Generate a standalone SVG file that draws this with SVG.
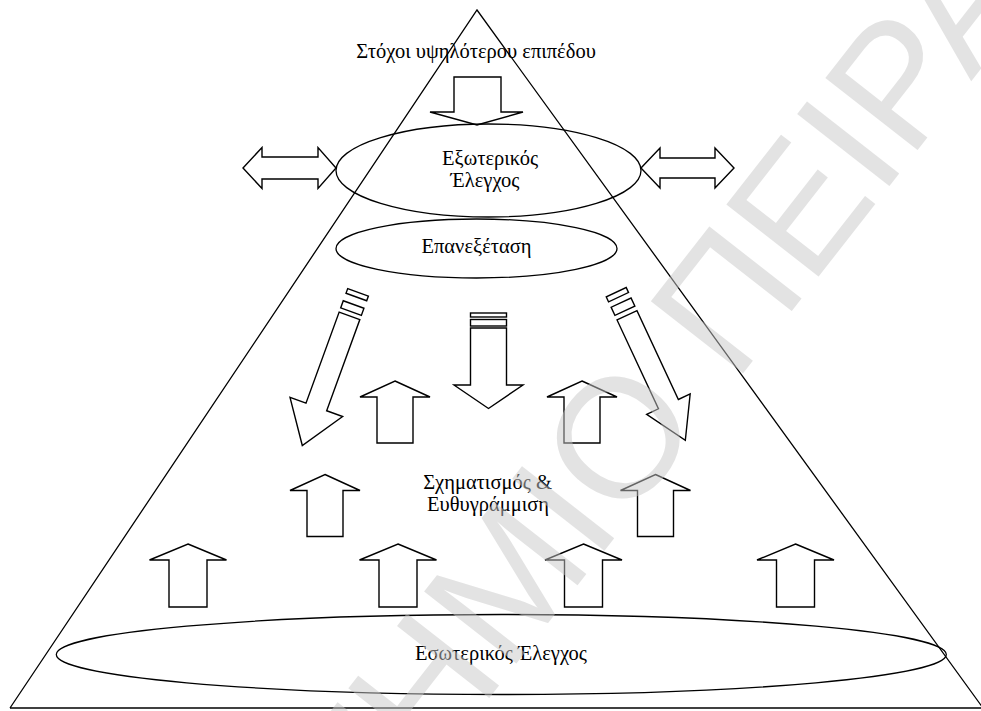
<svg xmlns="http://www.w3.org/2000/svg" width="981" height="711" viewBox="0 0 981 711">
<defs>
<style>
.s{fill:#fff;stroke:#000;stroke-width:1.4;stroke-linejoin:miter}
.l{fill:none;stroke:#000;stroke-width:1.3}
.t{font-family:"Liberation Serif","Times New Roman",serif;font-size:20.5px;fill:#000;text-anchor:middle}
.wm{font-family:"Liberation Sans",Arial,sans-serif;font-size:170px;fill:#c8c8c8;opacity:.5}
</style>
<path id="up" d="M0,0 L35,16 L18,16 L18,62 L-18,62 L-18,16 L-35,16 Z"/>
<path id="upL" d="M0,0 L38.5,16 L19,16 L19,63 L-19,63 L-19,16 L-38.5,16 Z"/>
</defs>
<rect width="981" height="711" fill="#fff"/>
<g id="pyramid">
<path class="l" d="M10,708 L477,10 L983,708"/>
<line class="l" x1="10" y1="708" x2="981" y2="708"/>
</g>
<g id="top-goals">
<text class="t" x="476" y="58">Στόχοι υψηλότερου επιπέδου</text>
</g>
<g id="connectors">
<path id="arrow-top-down" class="s" d="M454,77 H501 V112 H523 L477,125 L430,112 H454 Z"/>
<path id="arrow-left-double" class="s" d="M243,168 L262,147.5 V157 H318 V147.5 L336,168 L318,188.5 V179 H262 V188.5 Z"/>
<path id="arrow-right-double" class="s" d="M641,168 L660,148 V158 H715 V148 L734,168 L715,188 V178 H660 V188 Z"/>
<g id="arrow-diag-left" transform="translate(349.5,315.8) rotate(20)">
<path class="s" d="M-11,0 H11 V97 H28 L0,138 L-28,97 H-11 Z"/>
<rect class="s" x="-11" y="-12" width="22" height="7.5"/>
<rect class="s" x="-11" y="-25" width="22" height="5"/>
</g>
<g id="arrow-center-down">
<path class="s" d="M470.5,328 H506.5 V385 H523 L488.5,408.5 L454,385 H470.5 Z"/>
<rect class="s" x="470.5" y="319.5" width="36" height="6.5"/>
<rect class="s" x="470.5" y="313" width="36" height="4"/>
</g>
<g id="arrow-diag-right" transform="translate(627,315.3) rotate(-25)">
<path class="s" d="M-11,0 H11 V98 H24 L0,138 L-24,98 H-11 Z"/>
<rect class="s" x="-11" y="-14" width="22" height="9"/>
<rect class="s" x="-11" y="-25.5" width="22" height="5.5"/>
</g>
<use class="s" href="#up" x="395" y="381"/>
<use class="s" href="#up" x="582" y="381"/>
<use class="s" href="#up" x="325" y="474.5"/>
<use class="s" href="#up" x="655.5" y="474.5"/>
<use class="s" href="#upL" x="188" y="544"/>
<use class="s" href="#upL" x="398" y="544"/>
<use class="s" href="#upL" x="583.5" y="544"/>
<use class="s" href="#upL" x="795.5" y="544"/>
</g>
<g id="external-control">
<ellipse class="l" cx="488.5" cy="170.5" rx="152.5" ry="46.5"/>
<text class="t" x="490" y="165">Εξωτερικός</text>
<text class="t" x="485" y="187">Έλεγχος</text>
</g>
<g id="review">
<ellipse class="l" cx="476.5" cy="248.5" rx="140.5" ry="29.5"/>
<text class="t" x="476.5" y="253">Επανεξέταση</text>
</g>
<g id="formation">
<text class="t" x="487.5" y="489">Σχηματισμός &amp;</text>
<text class="t" x="488" y="511">Ευθυγράμμιση</text>
</g>
<g id="internal-control">
<ellipse class="l" cx="501.3" cy="654.5" rx="445" ry="40"/>
<text class="t" x="501" y="660">Εσωτερικός Έλεγχος</text>
</g>
<g id="watermark">
<text class="wm" transform="translate(-92,1442) rotate(-52)">ΠΑΝΕΠΙΣΤΗΜΙΟ ΠΕΙΡΑΙΑ</text>
</g>
</svg>
